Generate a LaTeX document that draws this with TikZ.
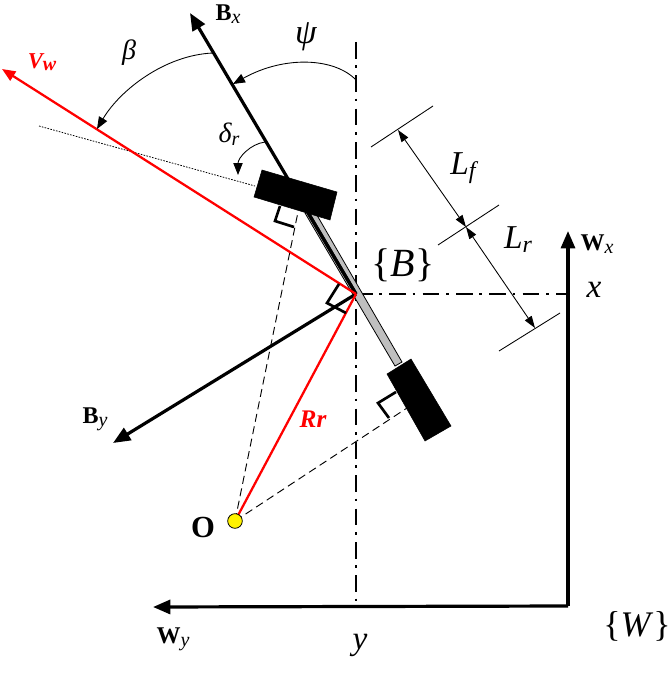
\documentclass[tikz,border=0pt]{standalone}
\usepackage{fontspec}
\setmainfont{Liberation Serif}
\usetikzlibrary{arrows.meta}
\definecolor{barg}{gray}{0.75}
\newcommand{\subs}[2][15]{\raisebox{-0.12em}{\fontsize{#1}{#1}\selectfont\itshape #2}}
\tikzset{
 x=0.75pt,y=-0.75pt,
 bigarrow/.style={line width=2.4pt,-{Triangle[length=13pt,width=10.5pt]}},
 redarrow/.style={red,line width=1.7pt,-{Triangle[length=10pt,width=8pt]}},
 thinarc/.style={line width=0.65pt,-{Triangle[length=9pt,width=7pt]}},
 dimline/.style={line width=0.65pt,{Triangle[length=9pt,width=6pt]}-{Triangle[length=9pt,width=6pt]}},
 extline/.style={line width=0.65pt},
 axisline/.style={line width=1.3pt,dash pattern=on 12.5pt off 5pt on 2pt off 5.5pt},
 dashline/.style={line width=0.7pt,dash pattern=on 6pt off 3.5pt},
 marker/.style={line width=2pt},
 wheel/.style={fill=black,draw=black,line width=0.4pt},
 lab/.style={inner sep=0pt,font=\fontsize{18}{18}\selectfont},
 mathlab/.style={inner sep=0pt,font=\fontsize{21}{21}\selectfont\itshape},
 dimlab/.style={inner sep=0pt,font=\fontsize{25}{25}\selectfont\itshape},
}
\begin{document}
\begin{tikzpicture}
\useasboundingbox (0,0) rectangle (671,674);
% named points
\coordinate (B) at (356,294);
\coordinate (W) at (568,606);
\coordinate (BxTip) at (190,13);
\coordinate (ByTip) at (113,443);
\coordinate (VwTip) at (2,69);
\coordinate (WxTip) at (568,231);
\coordinate (WyTip) at (153,607);
\coordinate (AxT) at (356,42);
\coordinate (AxB) at (356,606);
\coordinate (AxR) at (568,294);
% axes
\draw[axisline] (AxT) -- (AxB);
\draw[axisline] (B) -- (AxR);
% body bar
\fill[barg,draw=black,line width=0.6pt] (305,213) -- (395,366) -- (402,362) -- (314,210) -- cycle;
% black frame
\draw[line width=2.4pt] (B) -- (290,182);
\draw[bigarrow] (B) -- (BxTip);
\draw[bigarrow] (B) -- (ByTip);
\draw[bigarrow] (W) -- (WxTip);
\draw[bigarrow] (W) -- (WyTip);
% dotted steering line
\coordinate (D1) at (39,126);
\coordinate (D2) at (255,186);
\draw[line width=0.6pt,dash pattern=on 1.2pt off 1pt] (D1) -- (D2);
% O dashes
\coordinate (O) at (235,521);
\coordinate (DF) at (298,212);
\coordinate (DR) at (407,408);
\draw[dashline] (O) -- (DF);
\draw[dashline] (O) -- (DR);
% red
\draw[redarrow] (B) -- (VwTip);
\draw[red,line width=1.7pt] (B) -- (O);
% wheels
\fill[wheel] (262,170) -- (337,192) -- (330,220) -- (254,197) -- cycle;
\fill[wheel] (387,374) -- (411,359) -- (451,426) -- (425,441) -- cycle;
% right-angle marks
\draw[marker] (280,206) -- (275,221) -- (294,227);
\draw[marker] (396,392) -- (378,403) -- (389,418);
\draw[marker] (339,284) -- (327,303) -- (346,313);
% O point
\node[circle,fill=yellow,draw=black,line width=0.6pt,minimum size=11pt,inner sep=0pt] (Odot) at (O) {};
% angle arcs
\coordinate (PsiA) at (356,80);
\coordinate (PsiB) at (233,84);
\coordinate (BetaA) at (213,53);
\coordinate (BetaB) at (97,129);
\coordinate (DelA) at (265,142);
\coordinate (DelB) at (238,175);
\draw[thinarc] (PsiA) .. controls (335,58) and (285,55) .. (PsiB);
\draw[thinarc] (BetaA) .. controls (165,55) and (120,90) .. (BetaB);
\draw[thinarc] (DelA) .. controls (250,144) and (238,158) .. (DelB);
% dimensions
\coordinate (E1a) at (371,147); \coordinate (E1b) at (433,106);
\coordinate (E2a) at (438,245); \coordinate (E2b) at (499,205);
\coordinate (E3a) at (499,351); \coordinate (E3b) at (560,313);
\coordinate (M1) at (398,130); \coordinate (M2) at (466,227); \coordinate (M3) at (535,328);
\draw[extline] (E1a) -- (E1b);
\draw[extline] (E2a) -- (E2b);
\draw[extline] (E3a) -- (E3b);
\draw[dimline] (M1) -- (M2);
\draw[dimline] (M2) -- (M3);
% labels
\node[lab] (lBx) at (228,14) {\textbf{B}\subs{x}};
\node[lab] (lBy) at (95,419) {\textbf{B}\subs{y}};
\node[lab] (lWx) at (597,244) {\textbf{W}\subs{x}};
\node[lab] (lWy) at (173,639) {\textbf{W}\subs{y}};
\node[inner sep=0pt,font=\fontsize{23}{23}\selectfont\bfseries] (lO) at (203,527) {O};
\node[mathlab] (lbeta) at (129,53) {β};
\node[inner sep=0pt,font=\fontsize{26}{26}\selectfont\itshape] (lpsi) at (306,37) {ψ};
\node[mathlab] (ldelta) at (229,134) {δ\subs{r}};
\node[inner sep=0pt,red,font=\fontsize{17}{17}\selectfont\bfseries\itshape] (lVw) at (42,62) {V\raisebox{-0.1em}{\fontsize{15}{15}\selectfont w}};
\node[inner sep=0pt,red,font=\fontsize{19}{19}\selectfont\bfseries\itshape] (lRr) at (313,419) {Rr};
\node[dimlab] (lLf) at (463,168) {L\subs[18]{f}};
\node[dimlab] (lLr) at (518,240) {L\subs[18]{r}};
\node[inner sep=0pt,font=\fontsize{30}{30}\selectfont] (lcB) at (403,265) {\{\textit{B}\}};
\node[inner sep=0pt,font=\fontsize{27}{27}\selectfont] (lcW) at (637,626) {\{\textit{W}\}};
\node[dimlab] (lx) at (594,290) {x};
\node[dimlab] (ly) at (360,645) {y};
\end{tikzpicture}
\end{document}
